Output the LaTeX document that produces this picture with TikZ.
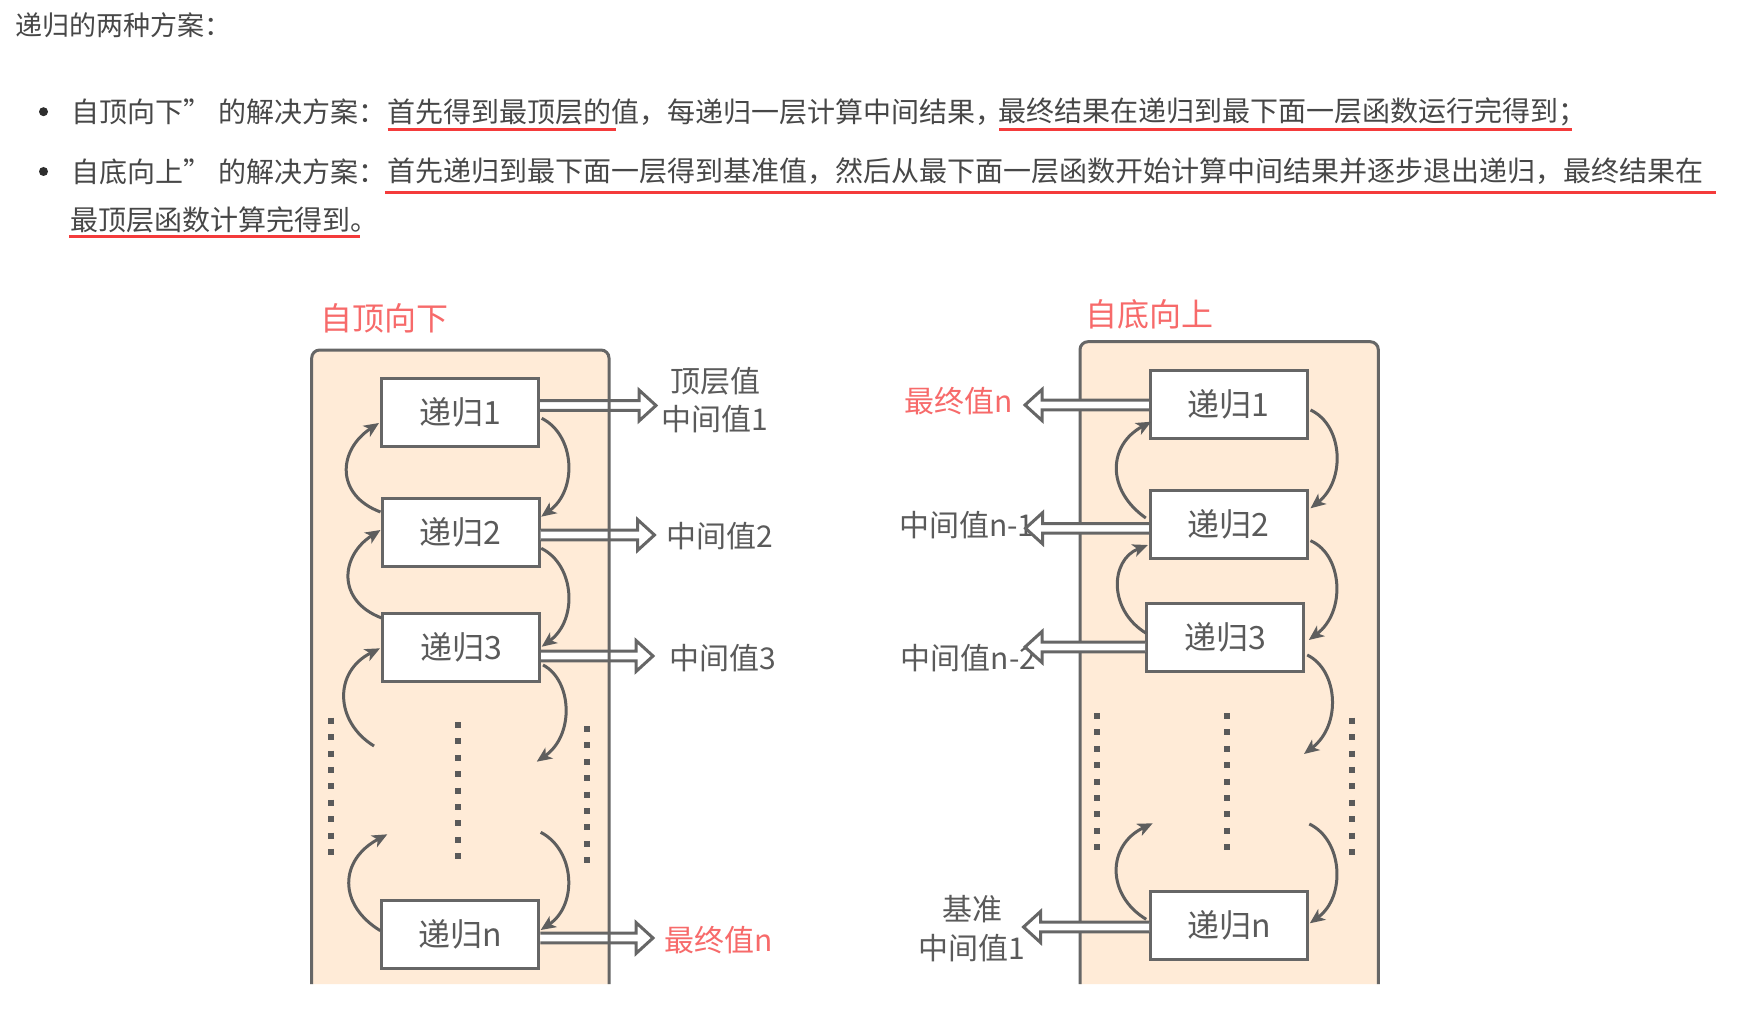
\documentclass[tikz,border=0pt]{standalone}
\usepackage{fontspec}
\setmainfont{Noto Sans CJK SC}
\usetikzlibrary{arrows.meta,calc}
\definecolor{txtc}{HTML}{474747}
\definecolor{dtxt}{HTML}{5A5A5A}
\definecolor{edgec}{HTML}{666666}
\definecolor{curvc}{HTML}{5E5E5E}
\definecolor{lred}{HTML}{F76A6A}
\definecolor{ured}{HTML}{F43B3B}
\definecolor{peach}{HTML}{FFEBD7}
\definecolor{bulc}{HTML}{2E2E2E}
\newcommand{\hollowR}[2]{%
  \path[harrow] let \p1=#1, \p2=#2 in
    (\x1,{\y1+4.8pt}) -- ({\x2-17pt},{\y1+4.8pt}) -- ({\x2-17pt},{\y1+15.5pt})
    -- (\x2,\y1) -- ({\x2-17pt},{\y1-15.5pt}) -- ({\x2-17pt},{\y1-4.8pt}) -- (\x1,{\y1-4.8pt});}
\newcommand{\hollowL}[2]{%
  \path[harrow] let \p1=#1, \p2=#2 in
    (\x1,{\y1+4.8pt}) -- ({\x2+17pt},{\y1+4.8pt}) -- ({\x2+17pt},{\y1+15.5pt})
    -- (\x2,\y1) -- ({\x2+17pt},{\y1-15.5pt}) -- ({\x2+17pt},{\y1-4.8pt}) -- (\x1,{\y1-4.8pt});}
\begin{document}
\begin{tikzpicture}[x=1pt,y=-1pt,
  body/.style={font=\fontsize{28}{34}\selectfont, text=txtc, inner sep=0pt, anchor=west},
  box/.style={draw=edgec, line width=3pt, fill=white, minimum width=157pt, minimum height=68pt,
    inner sep=0pt, font=\fontsize{32}{36}\selectfont, text=dtxt},
  lab/.style={font=\fontsize{30}{38.5}\selectfont, text=dtxt, inner sep=0pt},
  redlab/.style={lab, text=lred},
  ttl/.style={font=\fontsize{32}{36}\selectfont, text=lred, inner sep=0pt},
  curv/.style={draw=curvc, line width=3pt, -{Stealth[length=15pt,width=13pt,inset=4pt]}},
  harrow/.style={fill=white, draw=edgec, line width=3pt, line join=miter},
  dotcol/.style={draw=dtxt, line width=6pt, dash pattern=on 6pt off 10.4pt},
  uline/.style={draw=ured, line width=3pt},
  frame/.style={draw=edgec, line width=3pt, rounded corners=8pt}]
\useasboundingbox (0,0) rectangle (1737,1024);
\fill[white] (0,0) rectangle (1737,1024);

% ---------- text block ----------
\node[body, font=\fontsize{27}{32}\selectfont] (t0) at (15,25) {递归的两种方案：};
\fill[bulc] (43.5,111.7) circle (4.5);
\fill[bulc] (43.5,171.5) circle (4.5);
\node[body] (a1) at (71,111.7) {自顶向下”};
\node[body] (a2) at (218.5,111.7) {的解决方案：};
\node[body] (a3) at (387,111.7) {首先得到最顶层的值，每递归一层计算中间结果，};
\node[body] (a4) at (998.5,111.7) {最终结果在递归到最下面一层函数运行完得到；};
\node[body] (b1) at (71,171.5) {自底向上”};
\node[body] (b2) at (218.5,171.5) {的解决方案：};
\node[body] (b3) at (387.5,171.5) {首先递归到最下面一层得到基准值，然后从最下面一层函数开始计算中间结果并逐步退出递归，最终结果在};
\node[body] (c1) at (70.5,219.5) {最顶层函数计算完得到。};
\draw[uline] (387.7,130) -- (616,130);
\draw[uline] (999,130) -- (1571.7,130);
\draw[uline] (385,192.7) -- (1715.7,192.7);
\draw[uline] (69.3,236.7) -- (360,236.7);

% ---------- container fills ----------
\fill[peach, rounded corners=8pt] (311.7,984) -- (311.7,350) -- (609,350) -- (609,984);
\fill[peach, rounded corners=8pt] (1080,984) -- (1080,341.7) -- (1378.3,341.7) -- (1378.3,984);
\draw[frame] (1080,984) -- (1080,341.7) -- (1378.3,341.7) -- (1378.3,984);

\node[ttl] (tl) at (384,318) {自顶向下};
\node[ttl] (tr) at (1149,314.7) {自底向上};

% ---------- dotted columns ----------
\draw[dotcol] (331,717.7) -- (331,854.7);
\draw[dotcol] (458.3,722) -- (458.3,859);
\draw[dotcol] (587.3,726) -- (587.3,863);
\draw[dotcol] (1097.3,713) -- (1097.3,851.3);
\draw[dotcol] (1226.7,713) -- (1226.7,851.3);
\draw[dotcol] (1351.7,717.7) -- (1351.7,855.3);

% ---------- boxes ----------
\node[box] (L1) at (460,412) {递归1};
\node[box] (L2) at (460.5,532.5) {递归2};
\node[box] (L3) at (461,647) {递归3};
\node[box] (Ln) at (460.4,934) {递归n};
\node[box] (R1) at (1228.8,404) {递归1};
\node[box] (R2) at (1228.8,524.7) {递归2};
\node[box] (R3) at (1225,637) {递归3};
\node[box] (Rn) at (1229,925.5) {递归n};

% ---------- free curve ends ----------
\coordinate (c3s) at (374,746);
\coordinate (c4e) at (387.3,834.3);
\coordinate (d3e) at (536.7,761.7);
\coordinate (d4s) at (540.7,832.3);
\coordinate (ru3e) at (1152.7,823.3);
\coordinate (rd3e) at (1304,754);
\coordinate (rd4s) at (1309.3,824);

% ---------- left diagram curves ----------
\draw[curv] ($(L2.west)+(0,-20.5)$) .. controls (335,495) and (338,450) .. ($(L1.west)+(-1,11)$);
\draw[curv] ($(L3.west)+(0.7,-29)$) .. controls (336.7,601) and (340,556) .. ($(L2.west)+(0,-2.5)$);
\draw[curv] (c3s) .. controls (335,722) and (333,672) .. ($(L3.west)+(-1,1.3)$);
\draw[curv] ($(Ln.west)+(0,-3.3)$) .. controls (338,905) and (339,860) .. (c4e);
\draw[curv] ($(L1.east)+(1.7,6.3)$) .. controls (575,435) and (578,490) .. ($(L2.east)+(0.7,-15.8)$);
\draw[curv] ($(L2.east)+(0.7,15.8)$) .. controls (575,565) and (578,620) .. ($(L3.east)+(0.7,-0.3)$);
\draw[curv] ($(L3.east)+(2,18)$) .. controls (572,680) and (575,735) .. (d3e);
\draw[curv] (d4s) .. controls (575,850) and (578,905) .. ($(Ln.east)+(0.3,-4)$);

% ---------- right diagram curves ----------
\draw[curv] ($(R2.west)+(-3,-6.7)$) .. controls (1106,490) and (1108,445) .. ($(R1.west)+(2.4,17.7)$);
\draw[curv] ($(R3.west)+(1.2,-3.7)$) .. controls (1108,610) and (1110,560) .. ($(R2.west)+(-1,20.3)$);
\draw[curv] ($(Rn.west)+(-2.8,-6.2)$) .. controls (1106,895) and (1107,845) .. (ru3e);
\draw[curv] ($(R1.east)+(1.7,6)$) .. controls (1343,425) and (1346,480) .. ($(R2.east)+(1.7,-16.4)$);
\draw[curv] ($(R2.east)+(1.7,16)$) .. controls (1343,555) and (1346,612) .. ($(R3.east)+(3.8,3)$);
\draw[curv] ($(R3.east)+(2.2,18)$) .. controls (1338,670) and (1342,725) .. (rd3e);
\draw[curv] (rd4s) .. controls (1343,840) and (1346,897) .. ($(Rn.east)+(0.8,-2.2)$);

% ---------- labels ----------
\node[lab, align=center] (lt1) at (715,400) {顶层值\\中间值1};
\node[lab, anchor=west] (lt2) at (666,535.7) {中间值2};
\node[lab, anchor=west] (lt3) at (669,658) {中间值3};
\node[redlab, anchor=west] (ltn) at (664,940) {最终值n};
\node[redlab, anchor=west] (rt1) at (904,401) {最终值n};
\node[lab, anchor=west] (rt2) at (899,525.5) {中间值n-1};
\node[lab, anchor=west] (rt3) at (900.5,658.5) {中间值n-2};
\node[lab, align=center] (rtn) at (972,928.5) {基准\\中间值1};

% ---------- hollow arrows ----------
\coordinate (la1) at (656,405.5);
\coordinate (la2) at (654.5,535);
\coordinate (la3) at (653,656);
\coordinate (lan) at (653,938);
\coordinate (ra1) at (1025,405);
\coordinate (ra2) at (1025.5,528.3);
\coordinate (ra3) at (1025,647);
\coordinate (ran) at (1023.5,927);
\hollowR{(L1.east |- la1)}{(la1)}
\hollowR{(L2.east |- la2)}{(la2)}
\hollowR{(L3.east |- la3)}{(la3)}
\hollowR{(Ln.east |- lan)}{(lan)}
\hollowL{(R1.west |- ra1)}{(ra1)}
\hollowL{(R2.west |- ra2)}{(ra2)}
\hollowL{(R3.west |- ra3)}{(ra3)}
\hollowL{(Rn.west |- ran)}{(ran)}

% left container border drawn over its arrows
\draw[frame] (311.7,984) -- (311.7,350) -- (609,350) -- (609,984);
\end{tikzpicture}
\end{document}
